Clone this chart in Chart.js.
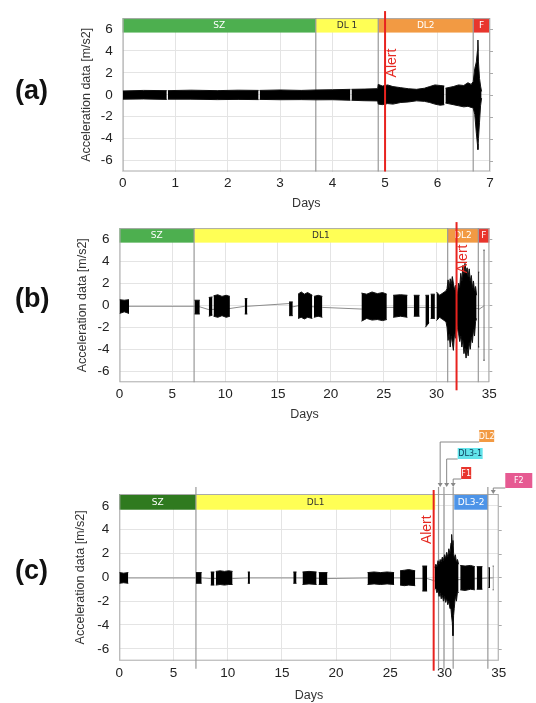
<!DOCTYPE html>
<html>
<head>
<meta charset="utf-8">
<script src="https://cdn.jsdelivr.net/npm/chart.js@4.4.0/dist/chart.umd.min.js"></script>
<style>
  html, body { margin: 0; padding: 0; background: #fff; overflow: hidden; }
  body { width: 536px; height: 703px; position: relative; font-family: "Liberation Sans", Arial, sans-serif; }
  .panel { position: absolute; left: 0; width: 536px; }
  .tag { position: absolute; left: 15px; font-weight: bold; font-size: 27px; color: #111; line-height: 30px; }
</style>
</head>
<body>
<div class="panel" style="top:0;height:211px"><canvas id="chartA"></canvas></div>
<div class="panel" style="top:210px;height:212px"><canvas id="chartB"></canvas></div>
<div class="panel" style="top:425px;height:278px"><canvas id="chartC"></canvas></div>
<div class="tag" style="top:75px">(a)</div>
<div class="tag" style="top:283px">(b)</div>
<div class="tag" style="top:555px">(c)</div>

<script>
// ---------------------------------------------------------------
//  data (upper / lower envelope of the trace)
// ---------------------------------------------------------------

const yTickValues = [-6, -4, -2, 0, 2, 4, 6];

// (a) continuous record, 0 - 7 days  (null = short gap in record)
const aDays = [
  0, 0.4, 0.84, 0.85, 0.86, 1.3, 1.8, 2.2, 2.59, 2.6,
  2.61, 3.0, 3.4, 3.68, 4.0, 4.34, 4.35, 4.36, 4.6, 4.86,
  4.87, 4.95, 5.05, 5.15, 5.3, 5.45, 5.6, 5.75, 5.85, 5.95,
  6.05, 6.13, 6.14, 6.15, 6.2, 6.3, 6.4, 6.5, 6.58, 6.64,
  6.68, 6.71, 6.74, 6.76, 6.77, 6.78, 6.8, 6.82, 6.84
];
const aHigh = [
  0.35, 0.4, 0.38, null, 0.38, 0.42, 0.38, 0.42, 0.4, null,
  0.4, 0.44, 0.4, 0.44, 0.46, 0.5, null, 0.5, 0.52, 0.56,
  0.95, 0.8, 0.9, 0.75, 0.65, 0.55, 0.5, 0.6, 0.75, 0.9,
  0.85, 0.8, null, 0.6, 0.65, 0.75, 0.9, 0.85, 1.1, 0.95,
  1.2, 2.4, 3.0, 4.0, 5.0, 3.0, 1.5, 0.8, 0.3
];
const aLow = [
  -0.4, -0.38, -0.42, null, -0.4, -0.4, -0.44, -0.42, -0.44, null,
  -0.42, -0.45, -0.44, -0.46, -0.45, -0.5, null, -0.5, -0.54, -0.56,
  -0.85, -0.9, -0.8, -0.85, -0.7, -0.65, -0.55, -0.6, -0.7, -0.85,
  -0.95, -0.9, null, -0.75, -0.8, -0.9, -1.0, -1.1, -1.05, -1.15,
  -1.2, -1.8, -3.5, -4.5, -5.0, -4.0, -2.5, -1.0, -0.3
];

// (b) bursts, one line per burst, trailing null = no record
const bDays = [
  0, 0.45, 0.9, 4,
  7.1, 7.6, 8,
  8.45, 8.8, 8.85,
  8.9, 9.3, 9.7, 10.1, 10.45, 11,
  11.85, 12.1, 14,
  16.05, 16.4, 16.6,
  16.9, 17.2, 17.5, 17.8, 18.25, 18.32,
  18.4, 18.8, 19.2, 21,
  22.9, 23.4, 23.9, 24.4, 24.9, 25.3, 25.6,
  25.9, 26.6, 27.25, 27.5,
  27.85, 28.4, 28.7,
  28.95, 29.3, 29.38,
  29.45, 29.85, 29.92,
  30.0, 30.3, 30.6, 30.9,
  31.0, 31.1, 31.2, 31.3, 31.4, 31.5, 31.6, 31.7, 31.8, 31.9,
  32.0, 32.1, 32.2, 32.3, 32.4, 32.5, 32.6, 32.7, 32.8, 32.9,
  33.0, 33.1, 33.2, 33.3, 33.4, 33.5, 33.6, 33.7, 33.8, 33.88,
  33.95, 34.05, 34.3,
  34.45, 34.55
];
const bHigh = [
  0.5, 0.45, 0.5, null,
  0.45, 0.45, null,
  0.7, 0.75, null,
  0.85, 0.95, 0.8, 0.9, 0.8, null,
  0.6, 0.6, null,
  0.3, 0.3, null,
  1.0, 1.2, 1.0, 1.15, 0.9, null,
  0.8, 0.9, 0.8, null,
  1.1, 1.0, 1.2, 1.05, 1.15, 1.0, null,
  0.9, 0.95, 0.9, null,
  0.9, 0.9, null,
  0.9, 0.9, null,
  1.0, 1.0, null,
  1.2, 0.9, 1.1, 1.3,
  1.5, 2.3, 1.6, 2.4, 1.9, 2.6, 2.0, 1.4, 1.8, 0.9,
  1.2, 2.0, 1.6, 2.9, 2.2, 3.6, 2.8, 3.8, 3.0, 3.4,
  2.6, 3.3, 2.2, 2.7, 1.6, 2.2, 1.3, 1.7, 0.9, null,
  3.0, 3.0, null,
  5.0, 5.0
];
const bLow = [
  -0.75, -0.6, -0.75, null,
  -0.8, -0.8, null,
  -1.0, -0.9, null,
  -1.0, -1.1, -0.95, -1.1, -1.0, null,
  -0.8, -0.8, null,
  -0.95, -0.95, null,
  -1.2, -1.1, -1.25, -1.1, -1.2, null,
  -1.1, -1.0, -1.1, null,
  -1.45, -1.2, -1.35, -1.3, -1.4, -1.3, null,
  -1.1, -1.0, -1.1, null,
  -1.0, -1.0, null,
  -2.0, -1.6, null,
  -1.2, -1.2, null,
  -1.4, -1.1, -1.3, -1.5,
  -2.0, -3.2, -2.6, -3.8, -2.8, -3.4, -4.1, -2.6, -3.0, -1.6,
  -2.2, -2.6, -3.3, -2.8, -3.8, -3.2, -4.4, -3.9, -4.8, -4.0,
  -4.6, -3.4, -4.0, -2.9, -3.4, -2.2, -2.8, -1.5, -1.2, null,
  -3.8, -3.8, null,
  -5.0, -5.0
];
const bBaseDays = [0.9, 7.1, 7.6, 8.45, 10.45, 11.85, 12.1, 16.05, 16.4, 16.9, 19.2, 22.9, 25.3, 25.9, 27.25, 27.85, 28.4, 28.95, 33.8, 33.95, 34.05, 34.45];
const bBaseVals = [-0.1, -0.1, -0.15, -0.4, -0.3, -0.1, -0.1, 0.15, -0.15, -0.05, -0.2, -0.35, -0.2, -0.2, -0.2, -0.2, -0.2, -0.2, -0.3, -0.3, -0.35, -0.1];

// (c) bursts, one line per burst, trailing null = no record
const cDays = [
  0, 0.4, 0.83, 4,
  7.07, 7.6, 8,
  8.43, 8.77, 8.83,
  8.9, 9.3, 9.7, 10.1, 10.45, 11,
  11.85, 12.05, 14,
  16.05, 16.35, 16.6,
  16.9, 17.5, 18.2, 18.3,
  18.4, 19.2, 21,
  22.9, 23.5, 24.1, 24.7, 25.35, 25.6,
  25.9, 26.3, 26.7, 27.3, 27.6,
  27.95, 28.4, 28.8,
  29.1, 29.2, 29.3, 29.4, 29.5, 29.6, 29.7, 29.8, 29.9, 30.0,
  30.1, 30.2, 30.3, 30.4, 30.5, 30.6, 30.66, 30.72, 30.78, 30.84,
  30.9, 31.0, 31.1, 31.2, 31.3, 31.38,
  31.45, 31.9, 32.4, 32.8, 32.88,
  32.97, 33.5, 33.8,
  34.05, 34.2, 34.3,
  34.45, 34.52
];
const cHigh = [
  0.4, 0.35, 0.4, null,
  0.4, 0.4, null,
  0.45, 0.45, null,
  0.5, 0.55, 0.5, 0.55, 0.5, null,
  0.45, 0.45, null,
  0.45, 0.45, null,
  0.45, 0.5, 0.45, null,
  0.4, 0.4, null,
  0.4, 0.45, 0.4, 0.45, 0.4, null,
  0.55, 0.6, 0.65, 0.55, null,
  0.95, 0.95, null,
  0.8, 1.1, 0.9, 1.4, 1.1, 1.5, 1.3, 1.7, 1.4, 1.9,
  1.6, 2.1, 1.7, 2.4, 2.0, 2.9, 3.6, 2.7, 3.1, 2.0,
  1.6, 1.9, 1.3, 1.5, 1.1, null,
  1.0, 0.95, 1.0, 0.9, null,
  0.9, 0.9, null,
  0.8, 0.8, null,
  0.95, 0.95
];
const cLow = [
  -0.5, -0.45, -0.5, null,
  -0.5, -0.5, null,
  -0.65, -0.65, null,
  -0.65, -0.6, -0.65, -0.6, -0.6, null,
  -0.5, -0.5, null,
  -0.5, -0.5, null,
  -0.6, -0.55, -0.6, null,
  -0.6, -0.6, null,
  -0.6, -0.55, -0.6, -0.55, -0.6, null,
  -0.65, -0.7, -0.65, -0.7, null,
  -1.15, -1.15, null,
  -1.0, -0.9, -1.3, -1.1, -1.6, -1.3, -1.8, -1.5, -2.0, -1.6,
  -2.1, -1.8, -2.3, -2.0, -2.6, -2.7, -3.3, -3.8, -4.9, -3.2,
  -2.6, -1.6, -2.0, -1.2, -1.3, null,
  -1.05, -1.1, -1.0, -1.05, null,
  -1.0, -1.0, null,
  -0.85, -0.85, null,
  -1.05, -1.05
];
const cBaseDays = [0.83, 7.07, 7.6, 8.43, 10.45, 11.85, 12.05, 16.05, 16.35, 16.9, 19.2, 22.9, 25.35, 25.9, 27.3, 27.95, 28.4, 29.1, 34.2, 34.45];
const cBaseVals = [-0.05, -0.05, -0.05, -0.1, -0.1, -0.05, -0.05, -0.05, -0.05, -0.05, -0.1, -0.05, -0.05, -0.05, -0.1, -0.1, -0.1, -0.3, -0.05, -0.05];

// phase bands at the top of each panel
const aBands = [
  { from: 0, to: 3.68, label: "SZ", color: "#4daf4f", text: "#fff" },
  { from: 3.68, to: 4.87, label: "DL 1", color: "#ffff55", text: "#333" },
  { from: 4.87, to: 6.68, label: "DL2", color: "#f29a43", text: "#fff" },
  { from: 6.68, to: 7, label: "F", color: "#e8352c", text: "#fff" }
];
const bBands = [
  { from: 0, to: 7.06, label: "SZ", color: "#4daf4f", text: "#fff" },
  { from: 7.06, to: 31.06, label: "DL1", color: "#ffff55", text: "#333" },
  { from: 31.06, to: 33.96, label: "DL2", color: "#f29a43", text: "#fff" },
  { from: 33.96, to: 35, label: "F", color: "#e8352c", text: "#fff" }
];
const cBands = [
  { from: 0, to: 7.07, label: "SZ", color: "#2f7a1f", text: "#fff" },
  { from: 7.07, to: 29.15, label: "DL1", color: "#ffff55", text: "#333" },
  { from: 30.9, to: 34.0, label: "DL3-2", color: "#4d94e8", text: "#fff" }
];

// phase boundaries and alert day
const aMarks = [3.68, 4.87, 6.68];
const bMarks = [7.06, 31.06, 33.96];
const cMarks = [7.07, 29.45, 29.95, 30.8, 34.0];
const aAlert = 5.0, bAlert = 31.9, cAlert = 29.0;

// (c) call-outs above the plot
const cNotes = [
  { label: "DL2", day: 29.6, color: "#f29a43", text: "#fff", dx: 39, top: -64, w: 15, h: 12, lineY: -52 },
  { label: "DL3-1", day: 30.2, color: "#62e3ea", text: "#0b3d5a", dx: 11, top: -46, w: 25, h: 11, lineY: -35 },
  { label: "F1", day: 30.8, color: "#e8352c", text: "#fff", dx: 8, top: -27, w: 10, h: 12, lineY: -15 },
  { label: "F2", day: 34.5, color: "#e65a92", text: "#fff", dx: 12, top: -21, w: 27, h: 15, lineY: -6 }
];

// ---------------------------------------------------------------
//  drawing
// ---------------------------------------------------------------

const FONT = '"Liberation Sans", Arial, sans-serif';

function decor(p) {
  return {
    id: "decor",
    beforeDatasetsDraw(chart) {
      const { ctx, chartArea: a, scales: { x, y } } = chart;
      ctx.save();

      // bands
      const y0 = y.getPixelForValue(7), y1 = y.getPixelForValue(5.68);
      p.bands.forEach(b => {
        const x0 = x.getPixelForValue(b.from), x1 = x.getPixelForValue(b.to);
        ctx.fillStyle = b.color;
        ctx.fillRect(x0, y0, x1 - x0, y1 - y0);
        ctx.fillStyle = b.text;
        ctx.font = '9px "DejaVu Sans", sans-serif';
        ctx.textAlign = "center";
        ctx.textBaseline = "middle";
        ctx.fillText(b.label, (x0 + x1) / 2, (y0 + y1) / 2 + 0.5);
      });

      // frame
      ctx.strokeStyle = "#aaa";
      ctx.lineWidth = 1;
      ctx.strokeRect(a.left + 0.5, a.top + 0.5, a.width - 1, a.height - 1);

      // right side tick marks
      yTickValues.forEach(v => {
        const py = Math.round(y.getPixelForValue(v)) + 0.5;
        ctx.beginPath();
        ctx.moveTo(a.right, py);
        ctx.lineTo(a.right + 3, py);
        ctx.stroke();
      });

      // phase boundaries
      ctx.strokeStyle = "#999";
      ctx.lineWidth = 1.2;
      p.marks.forEach(d => {
        const px = x.getPixelForValue(d);
        ctx.beginPath();
        ctx.moveTo(px, a.top - p.markUp);
        ctx.lineTo(px, a.bottom + p.markDown);
        ctx.stroke();
      });
      ctx.restore();
    },
    afterDatasetsDraw(chart) {
      const { ctx, chartArea: a, scales: { x, y } } = chart;
      ctx.save();

      // alert line + label
      const ax = x.getPixelForValue(p.alert);
      ctx.strokeStyle = "#e8231f";
      ctx.lineWidth = 2;
      ctx.beginPath();
      ctx.moveTo(ax, a.top - p.alertUp);
      ctx.lineTo(ax, a.bottom + p.alertDown);
      ctx.stroke();

      ctx.translate(ax + p.alertDx, y.getPixelForValue(p.alertY));
      ctx.rotate(-Math.PI / 2);
      ctx.fillStyle = "#e52a22";
      ctx.font = "14px " + FONT;
      ctx.textAlign = "center";
      ctx.textBaseline = "middle";
      ctx.fillText("Alert", 0, 0);
      ctx.restore();

      // call-outs
      if (!p.notes) return;
      ctx.save();
      p.notes.forEach(n => {
        const px = x.getPixelForValue(n.day);
        const ly = a.top + n.lineY;
        const arrowY = a.top - (n.label === "F2" ? 0 : 7);
        ctx.strokeStyle = "#888";
        ctx.lineWidth = 1;
        ctx.beginPath();
        ctx.moveTo(px + n.dx, ly);
        ctx.lineTo(px, ly);
        ctx.lineTo(px, arrowY - 3);
        ctx.stroke();
        ctx.fillStyle = "#888";
        ctx.beginPath();
        ctx.moveTo(px - 2.5, arrowY - 4);
        ctx.lineTo(px + 2.5, arrowY - 4);
        ctx.lineTo(px, arrowY);
        ctx.closePath();
        ctx.fill();

        const bx = px + n.dx, by = a.top + n.top;
        ctx.fillStyle = n.color;
        ctx.fillRect(bx, by, n.w, n.h);
        ctx.fillStyle = n.text;
        ctx.font = '8px "DejaVu Sans", sans-serif';
        ctx.textAlign = "center";
        ctx.textBaseline = "middle";
        ctx.fillText(n.label, bx + n.w / 2, by + n.h / 2 + 0.5);
      });
      ctx.restore();
    }
  };
}

function drawPanel(canvasId, p) {
  const upper = p.days.map((d, i) => ({ x: d, y: p.high[i] }));
  const lower = p.days.map((d, i) => ({ x: d, y: p.low[i] }));
  const datasets = [
    { data: upper, borderColor: "#111", borderWidth: 1, pointRadius: 0, fill: false, order: 1 },
    { data: lower, borderColor: "#111", borderWidth: 1, pointRadius: 0, fill: "-1", backgroundColor: "#000", order: 1 }
  ];
  if (p.baseDays) {
    datasets.push({
      data: p.baseDays.map((d, i) => ({ x: d, y: p.baseVals[i] })),
      borderColor: "#8c8c8c", borderWidth: 1, pointRadius: 0, fill: false, order: 3
    });
  }

  return new Chart(document.getElementById(canvasId), {
    type: "line",
    data: { datasets: datasets },
    options: {
      responsive: true,
      maintainAspectRatio: false,
      animation: false,
      spanGaps: false,
      layout: { padding: { top: p.padTop, right: p.padRight, left: 0, bottom: 0 } },
      plugins: { legend: { display: false }, tooltip: { enabled: false } },
      scales: {
        x: {
          type: "linear",
          min: 0,
          max: p.xMax,
          afterBuildTicks: s => { s.ticks = p.xTicks.map(v => ({ value: v })); },
          afterFit: s => { s.height = p.xAxisHeight; },
          ticks: { padding: 4, color: "#222", font: { family: FONT, size: 13.5 } },
          grid: { color: "#e4e4e4", drawTicks: false },
          border: { display: false },
          title: { display: true, text: "Days", color: "#333", font: { family: FONT, size: 12.5 }, padding: 0 }
        },
        y: {
          min: -7,
          max: 7,
          afterBuildTicks: s => { s.ticks = yTickValues.map(v => ({ value: v })); },
          afterFit: s => { s.width = p.yAxisWidth; },
          ticks: { padding: 10, color: "#222", font: { family: FONT, size: 13.5 } },
          grid: { color: "#e4e4e4", drawTicks: false },
          border: { display: false },
          title: {
            display: true, text: "Acceleration data [m/s2]", color: "#333",
            font: { family: FONT, size: 12.5 }, padding: { top: p.yTitleX - 7.5, bottom: 0 }
          }
        }
      }
    },
    plugins: [decor(p)]
  });
}

drawPanel("chartA", {
  days: aDays, high: aHigh, low: aLow,
  xMax: 7, xTicks: [0, 1, 2, 3, 4, 5, 6, 7],
  bands: aBands, marks: aMarks, markUp: 0, markDown: 0,
  alert: aAlert, alertUp: 7, alertDown: 0, alertDx: 7, alertY: 2.9,
  padTop: 10, padRight: 46, xAxisHeight: 39.5, yAxisWidth: 122.7, yTitleX: 87
});

drawPanel("chartB", {
  days: bDays, high: bHigh, low: bLow, baseDays: bBaseDays, baseVals: bBaseVals,
  xMax: 35, xTicks: [0, 5, 10, 15, 20, 25, 30, 35],
  bands: bBands, marks: bMarks, markUp: 0, markDown: 0,
  alert: bAlert, alertUp: 6, alertDown: 8, alertDx: 7, alertY: 4.2,
  padTop: 10, padRight: 46.7, xAxisHeight: 39.7, yAxisWidth: 119.5, yTitleX: 83
});

drawPanel("chartC", {
  days: cDays, high: cHigh, low: cLow, baseDays: cBaseDays, baseVals: cBaseVals,
  xMax: 35, xTicks: [0, 5, 10, 15, 20, 25, 30, 35],
  bands: cBands, marks: cMarks, markUp: 7, markDown: 8,
  alert: cAlert, alertUp: 4, alertDown: 10, alertDx: -7, alertY: 4.0,
  notes: cNotes,
  padTop: 69, padRight: 37.3, xAxisHeight: 42.3, yAxisWidth: 119.3, yTitleX: 80.7
});
</script>
</body>
</html>
